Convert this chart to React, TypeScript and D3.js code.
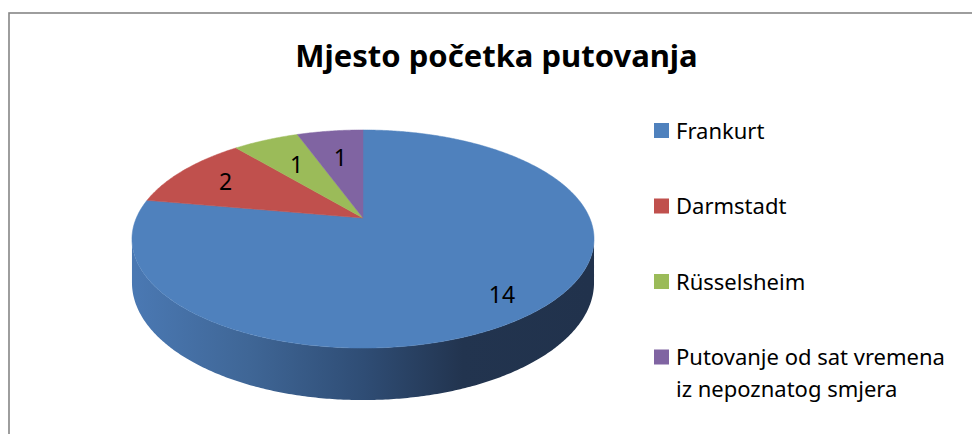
import * as d3 from "d3";

const title = "Mjesto početka putovanja";
const categories = ["Frankurt", "Darmstadt", "Rüsselsheim", "Putovanje od sat vremena iz nepoznatog smjera"];
const legendLines = [["Frankurt"], ["Darmstadt"], ["Rüsselsheim"], ["Putovanje od sat vremena", "iz nepoznatog smjera"]];
const values = [14, 2, 1, 1];
const colors = ["#4F81BD", "#C0504D", "#9BBB59", "#8064A2"];

const W = 972;
const H = 434;
const FONT = "'Noto Sans', 'Open Sans', sans-serif";

// pie geometry (perspective view of a disc)
const cx = 363;
const cy = 218;
const kx = 226.7;
const ky = 105;
const persp = 0.1927;
const depth = 42;

const proj = (a: number, r = 1, z = 0): [number, number] => {
  const u = r * Math.sin(a);
  const v = r * Math.cos(a);
  const den = 1 + persp * v;
  return [cx + (kx * u) / den, cy - (ky * v) / den + (z * depth) / den];
};

const arcPoints = (a0: number, a1: number, z = 0) => {
  const n = Math.max(2, Math.ceil(Math.abs(a1 - a0) / 0.01));
  return d3.range(n + 1).map((i) => proj(a0 + ((a1 - a0) * i) / n, 1, z));
};

const App = () => {
  const pie = d3
    .pie<number>()
    .sort(null)
    .startAngle(0)
    .endAngle(2 * Math.PI)
    .value((d) => d);
  const arcs = pie(values);
  const line = d3.line();

  // visible front wall between the horizontal extremes of the rim
  const aR = Math.acos(-persp);
  const aL = 2 * Math.PI - aR;
  const sidePts = [...arcPoints(aR, aL, 0), ...arcPoints(aL, aR, 1)];

  return (
    <svg width={W} height={H} style={{ position: "absolute", left: 0, top: 0, background: "#fff" }}>
      <defs>
        <linearGradient id="side" gradientUnits="userSpaceOnUse" x1={cx - kx} x2={cx + kx} y1={0} y2={0}>
          <stop offset="0" stopColor="#4a78b2" />
          <stop offset="0.25" stopColor="#3f6696" />
          <stop offset="0.5" stopColor="#2f4d75" />
          <stop offset="0.72" stopColor="#22344f" />
          <stop offset="1" stopColor="#21324c" />
        </linearGradient>
      </defs>
      <rect x={9} y={13} width={1000} height={500} fill="#fff" stroke="#868686" strokeWidth={1.6} />
      <text x={496.5} y={67} textAnchor="middle" fontFamily={FONT} fontWeight="bold" fontSize={31} fill="#000">
        {title}
      </text>

      <path d={line(sidePts as [number, number][]) + "Z"} fill="url(#side)" />

      {arcs.map((a, i) => {
        const pts = [[cx, cy], ...arcPoints(a.startAngle, a.endAngle, 0)];
        return <path key={categories[i]} d={line(pts as [number, number][]) + "Z"} fill={colors[i]} stroke={colors[i]} strokeWidth={0.5} />;
      })}

      {arcs.map((a, i) => {
        const mid = (a.startAngle + a.endAngle) / 2;
        const deg = ((a.endAngle - a.startAngle) * 180) / Math.PI;
        const [lx, ly] = proj(mid, 0.85 - 4 / deg);
        return (
          <text key={"l" + i} x={lx} y={ly} dy="0.36em" textAnchor="middle" fontFamily={FONT} fontSize={23} fill="#000">
            {a.data}
          </text>
        );
      })}

      {legendLines.map((lines, i) => (
        <g key={"g" + i} transform={`translate(654, ${123 + i * 75.5})`}>
          <rect x={0} y={0} width={15} height={15} fill={colors[i]} />
          {lines.map((t, j) => (
            <text key={j} x={22} y={15.5 + j * 32} fontFamily={FONT} fontSize={22} fill="#000">
              {t}
            </text>
          ))}
        </g>
      ))}
    </svg>
  );
};

export default App;
